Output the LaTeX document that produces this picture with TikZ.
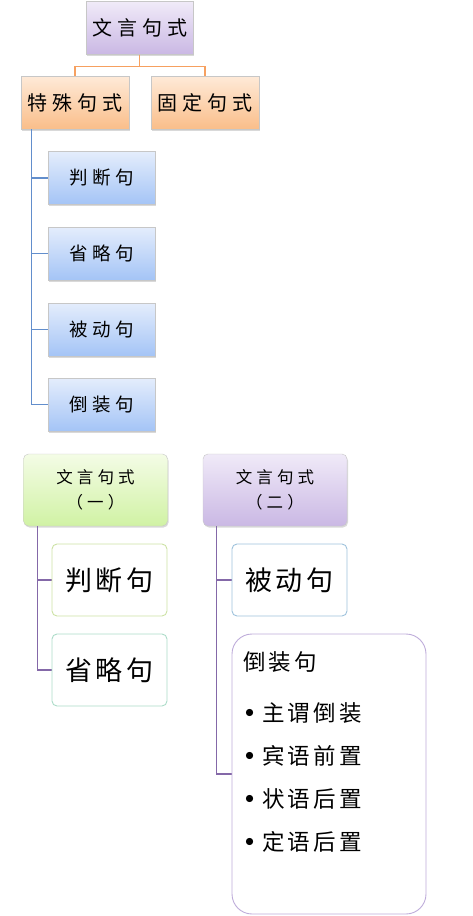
\documentclass[tikz,border=0pt]{standalone}
\usepackage{fontspec}
\newfontfamily\kaiwide[LetterSpace=25]{Noto Sans CJK SC}
\newfontfamily\kai[LetterSpace=14]{Noto Sans CJK SC}
\usetikzlibrary{shadows}
\definecolor{purtop}{RGB}{240,234,248}
\definecolor{purbot}{RGB}{202,184,228}
\definecolor{ortop}{RGB}{254,234,216}
\definecolor{orbot}{RGB}{250,190,138}
\definecolor{blutop}{RGB}{228,237,252}
\definecolor{blubot}{RGB}{164,196,246}
\definecolor{grntop}{RGB}{244,252,230}
\definecolor{grnbot}{RGB}{208,242,164}
\definecolor{orline}{RGB}{246,160,96}
\definecolor{bluline}{RGB}{98,142,204}
\definecolor{purline}{RGB}{132,104,168}
\newcommand\bul{\makebox[19pt][l]{\hspace{-5pt}\fontsize{32}{0}\selectfont\rmfamily\textbullet}}

\begin{document}
\begin{tikzpicture}[x=1pt,y=-1pt,every node/.style={inner sep=0pt,align=center},
    shade/.style={drop shadow={opacity=.3,shadow xshift=1pt,shadow yshift=-1.5pt}},
    card/.style={shade,draw=black!22,minimum width=107,minimum height=53,font=\kaiwide\fontsize{20}{24}\selectfont},
    sub/.style={shade,draw=black!22,rounded corners=5,minimum width=144,minimum height=72,font=\kaiwide\fontsize{16.5}{25}\selectfont},
    leaf/.style={fill=white,line width=0.9,rounded corners=5,minimum width=115,minimum height=72,font=\kai\fontsize{27}{30}\selectfont},
    link/.style={line width=1.2}]
    \useasboundingbox (0,0) rectangle (472,916);
    % top row
    \node[card,top color=purtop,bottom color=purbot] (wy) at (139.5,28) {文言句式};
    \node[card,minimum width=108,top color=ortop,bottom color=orbot] (ts) at (75,102.5) {特殊句式};
    \node[card,minimum width=108,top color=ortop,bottom color=orbot] (gd) at (205,102.5) {固定句式};
    \draw[link,orline] (wy.south) -- ++(0,12) -| (ts.north);
    \draw[link,orline] (wy.south) -- ++(0,12) -| (gd.north);
    % four kinds
    \foreach \name/\txt/\y in {pd/判断句/178,sl/省略句/253.5,bd/被动句/329.5,dz/倒装句/404.5}
        \node[card,font=\kaiwide\fontsize{18.5}{22}\selectfont,top color=blutop,bottom color=blubot] (\name) at (101.5,\y) {\txt};
    \draw[link,bluline] ([xshift=11]ts.south west) coordinate (tsspine) |- (pd.west);
    \foreach \n in {sl,bd,dz}
        \draw[link,bluline] (tsspine) |- (\n.west);
    % part one
    \node[sub,top color=grntop,bottom color=grnbot] (one) at (95.5,490) {文言句式\\（一）};
    \draw[link,purline] ([xshift=14]one.south west) coordinate (onespine) |- (109.5,580);
    \draw[link,purline] (onespine) |- (109.5,670);
    \node[leaf,draw={rgb,255:red,204;green,226;blue,164}] (pdleaf) at (109.5,580) {判断句};
    \node[leaf,draw={rgb,255:red,172;green,220;blue,200}] (slleaf) at (109.5,670) {省略句};
    % part two
    \node[sub,top color=purtop,bottom color=purbot] (two) at (275,490) {文言句式\\（二）};
    \draw[link,purline] ([xshift=14]two.south west) coordinate (twospine) |- (289.5,580);
    \draw[link,purline] (twospine) |- (329,774);
    \node[leaf,draw={rgb,255:red,158;green,194;blue,220}] (bdleaf) at (289.5,580) {被动句};
    \node[leaf,draw={rgb,255:red,190;green,172;blue,218},rounded corners=20,minimum width=194,minimum height=280] (dzleaf) at (329,774) {};
    \node[anchor=north west,align=left,font=\kai\fontsize{22.5}{43}\selectfont] (dzlist) at (243,651)
        {倒装句\\[8pt]\bul 主谓倒装\\\bul 宾语前置\\\bul 状语后置\\\bul 定语后置};
\end{tikzpicture}
\end{document}
